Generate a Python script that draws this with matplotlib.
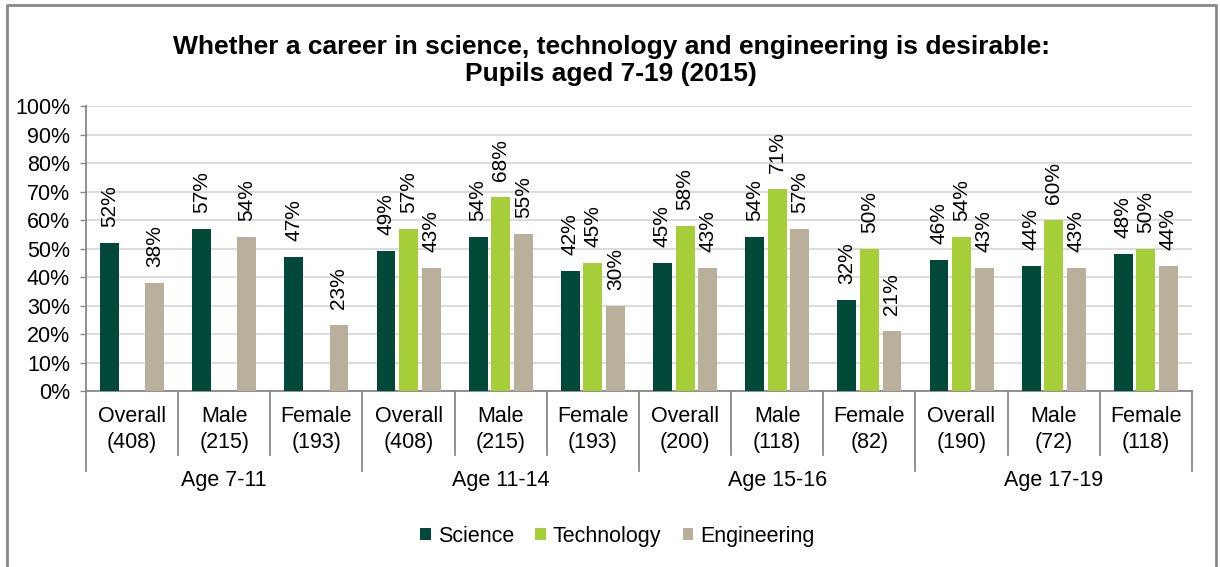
import matplotlib.pyplot as plt
import numpy as np
from matplotlib.lines import Line2D

plt.rcParams['font.family'] = ['Liberation Sans', 'DejaVu Sans']

# data (percent)
categories = ["Overall\n(408)", "Male\n(215)", "Female\n(193)",
              "Overall\n(408)", "Male\n(215)", "Female\n(193)",
              "Overall\n(200)", "Male\n(118)", "Female\n(82)",
              "Overall\n(190)", "Male\n(72)", "Female\n(118)"]
age_groups = ["Age 7-11", "Age 11-14", "Age 15-16", "Age 17-19"]
science = [52, 57, 47, 49, 54, 42, 45, 54, 32, 46, 44, 48]
technology = [np.nan, np.nan, np.nan, 57, 68, 45, 58, 71, 50, 54, 60, 50]
engineering = [38, 54, 23, 43, 55, 30, 43, 57, 21, 43, 43, 44]

series = [("Science", science, "#004837"),
          ("Technology", technology, "#a6ce39"),
          ("Engineering", engineering, "#b8b09a")]

FS = 15.5


def main():
    fig = plt.figure(figsize=(12.2, 5.67), dpi=100)
    ax = fig.add_axes([0.0705, 0.3104, 0.9065, 0.5026])

    x = np.arange(len(categories))
    width = 0.205
    offsets = [-0.245, 0, 0.245]

    for (name, vals, col), off in zip(series, offsets):
        vals = np.array(vals, dtype=float)
        ax.bar(x + off, np.nan_to_num(vals), width, color=col, label=name, zorder=3)
        for xi, v in zip(x, vals):
            if np.isnan(v):
                continue
            ax.annotate("{:.0f}%".format(v), (xi + off, v), xytext=(0, 11.5),
                        textcoords="offset points", rotation=90,
                        ha="center", va="bottom", fontsize=15, color="#000000")

    ax.set_xlim(-0.5, len(categories) - 0.5)
    ax.set_ylim(0, 100)
    ax.set_yticks(range(0, 101, 10))
    ax.set_yticklabels(["{}%".format(t) for t in range(0, 101, 10)], fontsize=FS)
    ax.yaxis.grid(True, color="#d9d9d9", linewidth=1.3, zorder=0)
    ax.set_axisbelow(True)
    ax.tick_params(axis="y", length=4.5, width=1, color="#888888", pad=7)
    ax.set_xticks([])

    for s in ["top", "right"]:
        ax.spines[s].set_visible(False)
    ax.spines["left"].set_color("#888888")
    ax.spines["bottom"].set_color("#888888")
    ax.spines["left"].set_linewidth(1.3)
    ax.spines["bottom"].set_linewidth(1.3)

    # category labels and dividers below the axis
    trans = ax.get_xaxis_transform()
    for xi, lab in zip(x, categories):
        top, bottom = lab.split("\n")
        ax.text(xi, -0.088, top, transform=trans, ha="center", va="center", fontsize=FS)
        ax.text(xi, -0.18, bottom, transform=trans, ha="center", va="center", fontsize=FS)
    for b in np.arange(-0.5, len(categories), 1.0):
        long_line = (b + 0.5) % 3 == 0
        y_end = -0.28 if long_line else -0.225
        ax.plot([b, b], [0, y_end], transform=trans, color="#888888",
                linewidth=1.3, clip_on=False)
    for i, g in enumerate(age_groups):
        ax.text(3 * i + 1, -0.313, g, transform=trans, ha="center", va="center", fontsize=FS)

    fig.text(0.501, 0.894, "Whether a career in science, technology and engineering is desirable:\n"
             "Pupils aged 7-19 (2015)", ha="center", va="center",
             fontsize=19, fontweight="bold", linespacing=1.15)

    fig.legend(loc="center", bbox_to_anchor=(0.506, 0.054), ncol=3, frameon=False,
               fontsize=FS, handlelength=0.5, handleheight=0.5,
               handletextpad=0.3, columnspacing=1.0)

    # chart frame: left, top, right (open at the bottom)
    fx0, fx1, fy1 = 0.0055, 0.9967, 0.992
    fig.add_artist(Line2D([fx0, fx0, fx1, fx1], [0, fy1, fy1, 0],
                          transform=fig.transFigure, color="#888888", linewidth=2))

    plt.savefig("out.png", dpi=100)


if __name__ == "__main__":
    main()
